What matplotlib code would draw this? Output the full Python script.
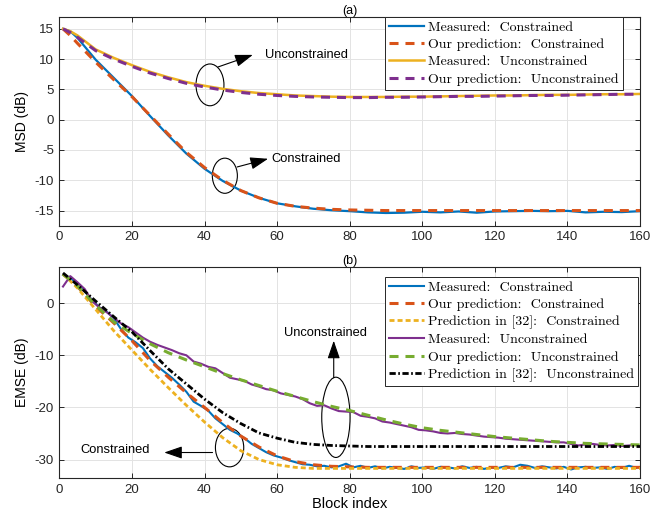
import numpy as np
import matplotlib
matplotlib.use("Agg")
import matplotlib.pyplot as plt
from matplotlib.patches import Ellipse

# --- data ---
# (a) MSD
blk_a = [1, 3, 5, 10, 15, 20, 25, 30, 35, 40, 45, 50, 55, 60, 65, 70, 75, 80, 85, 90,
         95, 100, 105, 110, 115, 120, 125, 130, 135, 140, 145, 150, 155, 160]
msd_con_meas = [15.0, 14.6, 13.5, 9.9, 6.9, 3.9, 0.6, -2.6, -5.6, -8.1, -10.1, -11.7, -12.9, -13.8,
                -14.3, -14.7, -14.95, -15.1, -15.3, -15.4, -15.35, -15.2, -15.3, -15.15, -15.35,
                -15.15, -15.1, -15.05, -15.1, -15.05, -15.3, -15.2, -15.25, -15.1]
msd_con_pred = [15.0, 13.9, 12.6, 9.5, 6.6, 3.8, 0.7, -2.4, -5.4, -7.9, -10.0, -11.7, -12.9, -13.8,
                -14.3, -14.6, -14.8, -14.9, -14.95, -15.0, -15.0, -15.0, -15.0, -15.0, -15.0,
                -15.0, -15.0, -15.0, -15.0, -15.0, -15.0, -15.0, -15.0, -15.0]
msd_unc_meas = [15.0, 14.6, 13.9, 11.6, 10.2, 9.0, 7.9, 7.0, 6.2, 5.6, 5.1, 4.7, 4.4, 4.2, 4.0,
                3.9, 3.8, 3.75, 3.75, 3.75, 3.8, 3.8, 3.85, 3.9, 3.95, 4.0, 4.0, 4.05, 4.1, 4.1,
                4.15, 4.2, 4.2, 4.25]
msd_unc_pred = [15.0, 14.4, 13.6, 11.4, 10.0, 8.8, 7.7, 6.8, 6.0, 5.4, 4.9, 4.5, 4.2, 4.0, 3.85,
                3.75, 3.7, 3.65, 3.65, 3.7, 3.7, 3.75, 3.8, 3.85, 3.85, 3.9, 3.95, 4.0, 4.0, 4.05,
                4.1, 4.15, 4.2, 4.2]

# (b) EMSE, smooth curves
blk_b = [1, 5, 10, 15, 20, 25, 30, 35, 40, 45, 50, 55, 60, 65, 70, 75, 80, 85, 90, 95, 100,
         105, 110, 115, 120, 125, 130, 135, 140, 145, 150, 155, 160]
emse_con_pred = [5.6, 3.2, -0.6, -3.8, -7.2, -11.0, -14.2, -17.2, -20.0, -22.9, -25.5, -27.6,
                 -29.3, -30.4, -31.0, -31.3, -31.4, -31.5, -31.5, -31.5, -31.5, -31.5, -31.5,
                 -31.5, -31.5, -31.5, -31.5, -31.5, -31.5, -31.5, -31.5, -31.5, -31.5]
emse_con_ref32 = [5.6, 2.9, -1.2, -5.3, -9.0, -12.7, -16.2, -19.6, -22.8, -25.8, -28.3, -30.0,
                  -31.0, -31.5, -31.7, -31.7, -31.7, -31.7, -31.7, -31.7, -31.7, -31.7, -31.7,
                  -31.7, -31.7, -31.7, -31.7, -31.7, -31.7, -31.7, -31.7, -31.7, -31.7]
emse_unc_pred = [5.6, 3.3, -0.4, -3.6, -5.8, -7.8, -9.5, -10.9, -12.2, -13.5, -14.7, -15.8,
                 -16.9, -17.9, -18.9, -19.8, -20.6, -21.5, -22.4, -23.2, -23.9, -24.4, -24.8,
                 -25.2, -25.6, -25.9, -26.2, -26.5, -26.7, -26.9, -27.0, -27.1, -27.2]
emse_unc_ref32 = [5.8, 3.5, 0.4, -2.6, -5.5, -9.1, -12.6, -15.5, -18.4, -21.0, -23.1, -24.9,
                  -25.9, -26.7, -27.1, -27.3, -27.4, -27.5, -27.5, -27.5, -27.5, -27.5, -27.5,
                  -27.5, -27.5, -27.5, -27.5, -27.5, -27.5, -27.5, -27.5, -27.5, -27.5]

# (b) EMSE, measured (noisy) curves, every second block
blk_meas = list(range(1, 161, 2))
emse_con_meas = [5.4, 4.9, 3.6, 2.3, 0.6, -0.8, -1.6, -2.9, -5.0, -6.6,
                 -7.5, -8.6, -10.6, -12.1, -13.2, -14.3, -15.6, -17.0, -18.9, -19.7,
                 -20.6, -22.1, -23.2, -24.3, -25.0, -25.9, -27.0, -27.8, -28.6, -29.2,
                 -29.6, -30.1, -30.5, -30.9, -31.0, -31.3, -31.2, -31.5, -31.3, -30.8,
                 -31.5, -31.2, -31.6, -31.3, -31.7, -31.4, -31.6, -31.8, -31.3, -31.6,
                 -31.5, -31.8, -31.4, -31.5, -31.7, -31.3, -31.6, -31.4, -31.8, -31.5,
                 -31.6, -31.3, -31.5, -31.0, -31.2, -31.6, -31.3, -31.5, -31.7, -31.4,
                 -31.9, -31.5, -31.4, -31.6, -31.5, -31.8, -31.4, -31.6, -31.2, -31.6]
emse_unc_meas = [3.2, 5.2, 4.0, 2.7, 0.4, -0.8, -1.7, -2.8, -3.9, -4.6,
                 -5.6, -6.6, -7.4, -8.0, -8.5, -9.0, -9.6, -10.0, -11.2, -11.6,
                 -12.2, -12.5, -13.4, -14.3, -14.6, -14.9, -15.6, -16.0, -16.5, -16.7,
                 -17.3, -17.6, -17.9, -18.4, -19.2, -19.7, -19.6, -20.2, -20.7, -20.8,
                 -20.9, -21.6, -21.8, -22.1, -22.7, -22.9, -23.2, -23.5, -23.8, -24.3,
                 -24.4, -24.6, -24.9, -25.0, -24.9, -25.1, -25.2, -25.4, -25.6, -25.7,
                 -25.8, -26.0, -26.1, -26.2, -26.3, -26.4, -26.5, -26.6, -26.7, -26.7,
                 -27.0, -27.3, -27.1, -27.0, -27.2, -27.3, -27.2, -27.4, -27.3, -27.2]

labels_a = ["Measured:  Constrained", "Our prediction:  Constrained",
            "Measured:  Unconstrained", "Our prediction:  Unconstrained"]
labels_b = ["Measured:  Constrained", "Our prediction:  Constrained",
            "Prediction in [32]:  Constrained", "Measured:  Unconstrained",
            "Our prediction:  Unconstrained", "Prediction in [32]:  Unconstrained"]

# matlab default colours
c_blue, c_red, c_yel, c_pur, c_grn = "#0072BD", "#D95319", "#EDB120", "#7E2F8E", "#77AC30"

plt.rcParams['font.family'] = ['Liberation Sans', 'DejaVu Sans']
plt.rcParams['lines.scale_dashes'] = False
plt.rcParams['axes.unicode_minus'] = False

fig = plt.figure(figsize=(6.71, 5.19), dpi=100)
ax1 = fig.add_axes([0.0885, 0.5651, 0.8653, 0.4027])
ax2 = fig.add_axes([0.0885, 0.0784, 0.8653, 0.4077])

dash = (6.5, 5.0)
arrow = dict(arrowstyle="-|>,head_length=1.1,head_width=0.38", color="k", lw=0.8,
             mutation_scale=10, shrinkA=0, shrinkB=0)

def style(ax):
    ax.grid(True, color="#e3e3e3", lw=0.7)
    ax.set_axisbelow(True)
    ax.tick_params(direction="in", top=True, right=True, length=3.5, width=0.7,
                   labelsize=9.5, colors="#262626", pad=4)
    for s in ax.spines.values():
        s.set_color("#262626")
        s.set_linewidth(0.8)
    ax.set_xlim(0, 160)
    ax.set_xticks(range(0, 161, 20))

leg_font = {'family': ['cmr10', 'DejaVu Serif'], 'size': 10}
leg_kw = dict(prop=leg_font, handlelength=2.5, handletextpad=0.3, labelspacing=0.33,
              fancybox=False, framealpha=1, edgecolor="#262626", borderpad=0.3,
              borderaxespad=0)

# (a)
ax1.plot(blk_a, msd_con_meas, color=c_blue, lw=1.6, label=labels_a[0])
ax1.plot(blk_a, msd_con_pred, color=c_red, lw=2.2, dashes=dash, label=labels_a[1])
ax1.plot(blk_a, msd_unc_meas, color=c_yel, lw=1.8, label=labels_a[2])
ax1.plot(blk_a, msd_unc_pred, color=c_pur, lw=2.2, dashes=dash, label=labels_a[3])
style(ax1)
ax1.set_ylim(-17.5, 17.0)
ax1.set_yticks(range(-15, 16, 5))
ax1.set_ylabel("MSD (dB)", fontsize=10)
ax1.set_title("(a)", fontsize=9, pad=2)
lg1 = ax1.legend(loc="upper right", bbox_to_anchor=(0.971, 1.0), **leg_kw)
lg1.get_frame().set_linewidth(0.7)

ax1.add_patch(Ellipse((41.5, 5.75), 7.7, 6.9, fill=False, lw=0.8, color="k"))
ax1.add_patch(Ellipse((45.6, -9.25), 6.9, 5.8, fill=False, lw=0.8, color="k"))
ax1.annotate("", xy=(53.3, 10.7), xytext=(43.7, 8.7), arrowprops=arrow)
ax1.annotate("", xy=(57.5, -6.45), xytext=(49.0, -7.8), arrowprops=arrow)
ax1.text(56.6, 10.7, "Unconstrained", fontsize=9.3, va="center", ha="left")
ax1.text(58.5, -6.45, "Constrained", fontsize=9.3, va="center", ha="left")

# (b)
ax2.plot(blk_meas, emse_con_meas, color=c_blue, lw=1.5, label=labels_b[0])
ax2.plot(blk_b, emse_con_pred, color=c_red, lw=2.2, dashes=dash, label=labels_b[1])
ax2.plot(blk_b, emse_con_ref32, color=c_yel, lw=2.0, dashes=(3.6, 2.2), label=labels_b[2])
ax2.plot(blk_meas, emse_unc_meas, color=c_pur, lw=1.5, label=labels_b[3])
ax2.plot(blk_b, emse_unc_pred, color=c_grn, lw=2.2, dashes=dash, label=labels_b[4])
ax2.plot(blk_b, emse_unc_ref32, color="k", lw=2.0, dashes=(4.5, 1.8, 1.2, 1.8), label=labels_b[5])
style(ax2)
ax2.set_ylim(-33.6, 7.0)
ax2.set_yticks([-30, -20, -10, 0])
ax2.set_ylabel("EMSE (dB)", fontsize=10)
ax2.set_xlabel("Block index", fontsize=10.5, labelpad=1)
ax2.set_title("(b)", fontsize=9, pad=2)
lg2 = ax2.legend(loc="upper right", bbox_to_anchor=(0.997, 0.953), **leg_kw)
lg2.get_frame().set_linewidth(0.7)

ax2.add_patch(Ellipse((76.2, -21.9), 7.8, 15.4, fill=False, lw=0.8, color="k"))
ax2.add_patch(Ellipse((46.9, -27.7), 7.8, 7.4, fill=False, lw=0.8, color="k"))
ax2.annotate("", xy=(75.6, -7.2), xytext=(75.6, -14.3), arrowprops=arrow)
ax2.annotate("", xy=(28.9, -28.65), xytext=(42.2, -28.65), arrowprops=arrow)
ax2.text(62.0, -5.7, "Unconstrained", fontsize=9.3, va="center", ha="left")
ax2.text(5.9, -28.1, "Constrained", fontsize=9.3, va="center", ha="left")

fig.savefig("out.png", dpi=100)
